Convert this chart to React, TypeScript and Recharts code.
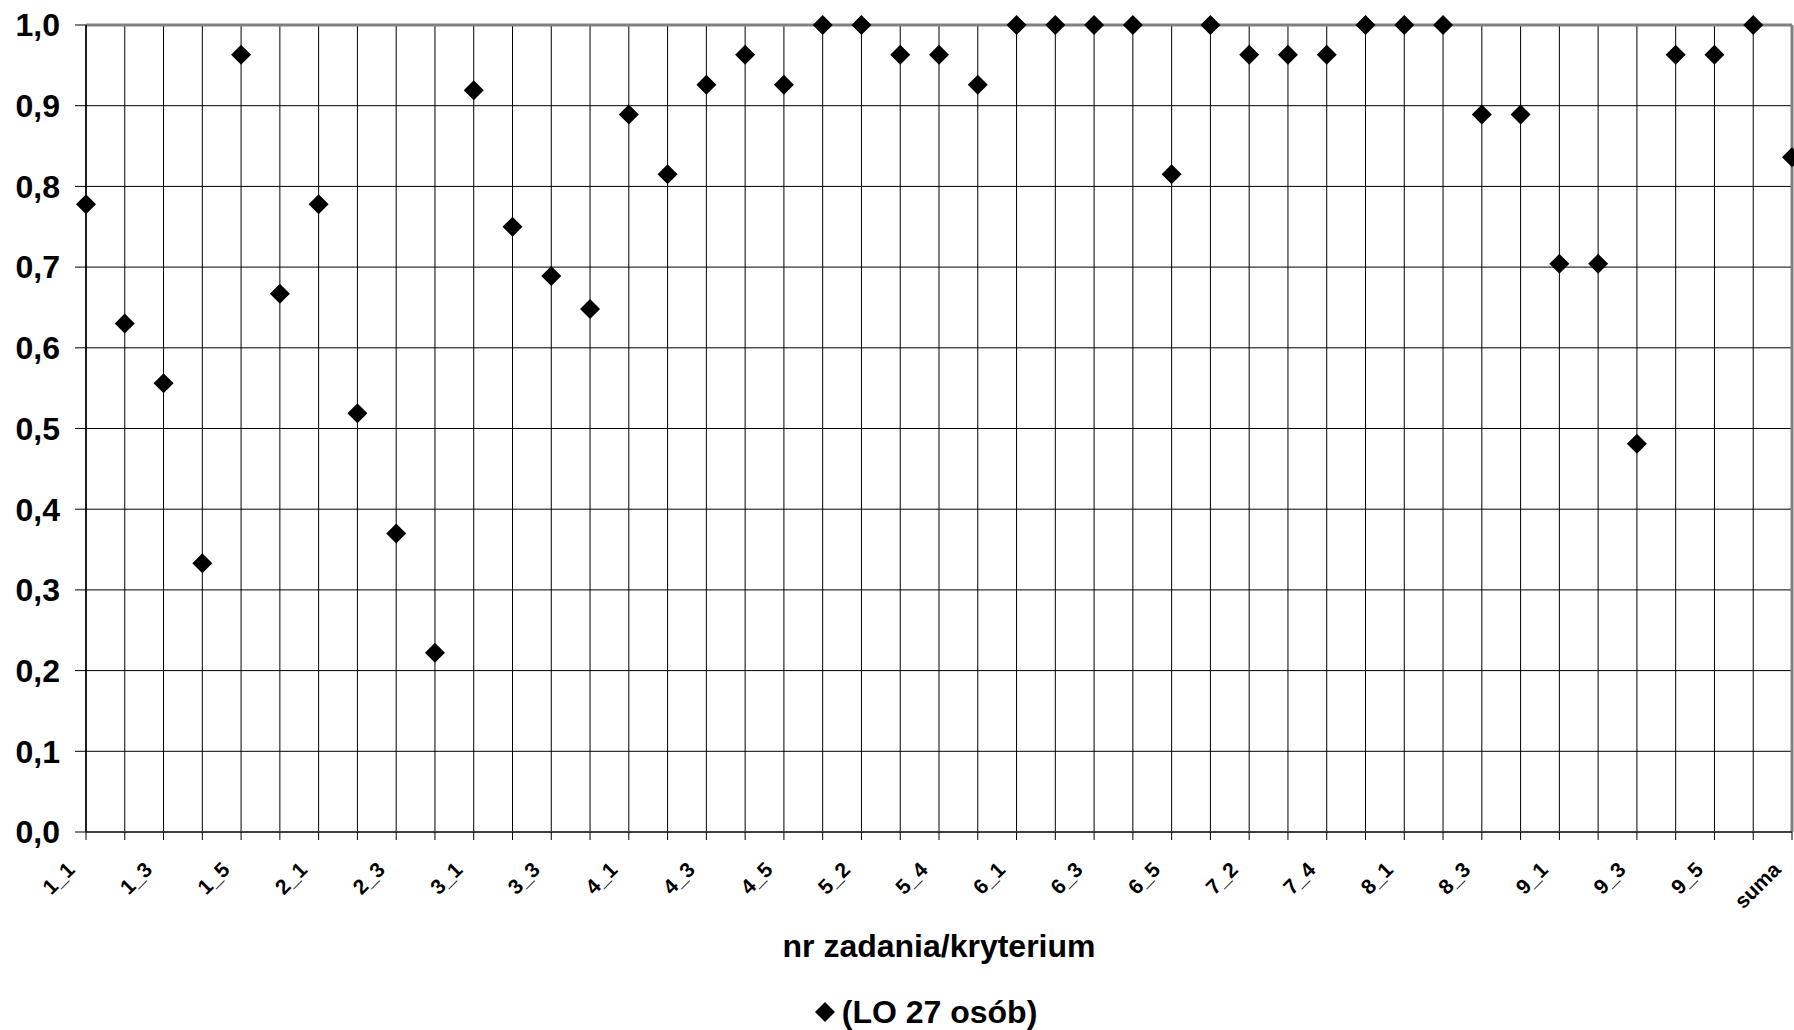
import React from 'react';
import { ScatterChart, Scatter, XAxis, YAxis, CartesianGrid, ReferenceLine, Legend, Label } from 'recharts';

const categories = [
  '1_1', '1_2', '1_3', '1_4', '1_5', '1_6',
  '2_1', '2_2', '2_3', '2_4',
  '3_1', '3_2', '3_3', '3_4',
  '4_1', '4_2', '4_3', '4_4', '4_5',
  '5_1', '5_2', '5_3', '5_4', '5_5',
  '6_1', '6_2', '6_3', '6_4', '6_5',
  '7_1', '7_2', '7_3', '7_4', '7_5',
  '8_1', '8_2', '8_3', '8_4',
  '9_1', '9_2', '9_3', '9_4', '9_5', '9_6',
  'suma',
];

const values = [
  0.778, 0.630, 0.556, 0.333, 0.963, 0.667,
  0.778, 0.519, 0.370, 0.222,
  0.919, 0.750, 0.689, 0.648,
  0.889, 0.815, 0.926, 0.963, 0.926,
  1.0, 1.0, 0.963, 0.963, 0.926,
  1.0, 1.0, 1.0, 1.0, 0.815,
  1.0, 0.963, 0.963, 0.963, 1.0,
  1.0, 1.0, 0.889, 0.889,
  0.704, 0.704, 0.481, 0.963, 0.963, 1.0,
  0.836,
];

const yTicks = [0, 0.1, 0.2, 0.3, 0.4, 0.5, 0.6, 0.7, 0.8, 0.9, 1.0];
const seriesName = '(LO 27 osób)';
const xAxisTitle = 'nr zadania/kryterium';

const FONT = "'Liberation Sans', Arial, Helvetica, sans-serif";

const data = categories.map((name, i) => ({ x: i, y: values[i], name }));
const xTicks = categories.map((_, i) => i);
const lastIndex = categories.length - 1;

const XTick = (props: any) => {
  const { x, y, payload } = props;
  const i = payload.value as number;
  if (i % 2 !== 0) return <g />;
  const ax = x - 10;
  const ay = y + 31;
  return (
    <text
      x={ax}
      y={ay}
      transform={`rotate(-45 ${ax} ${ay})`}
      textAnchor="end"
      fontSize={21}
      fontWeight="bold"
      fill="#000"
      fontFamily={FONT}
    >
      {categories[i]}
    </text>
  );
};

const Diamond = (props: any) => {
  const { cx, cy } = props;
  const r = 10;
  return (
    <polygon
      points={`${cx},${cy - r} ${cx + r},${cy} ${cx},${cy + r} ${cx - r},${cy}`}
      fill="#000"
    />
  );
};

const LegendContent = () => (
  <div
    style={{
      display: 'flex',
      justifyContent: 'center',
      alignItems: 'center',
      paddingLeft: 60,
      paddingTop: 14,
      height: 36,
      fontFamily: FONT,
      fontWeight: 'bold',
      fontSize: 32,
      color: '#000',
    }}
  >
    <svg width={20} height={20} style={{ display: 'block' }}>
      <polygon points="10,0 20,10 10,20 0,10" fill="#000" />
    </svg>
    <span style={{ marginLeft: 7, lineHeight: 1 }}>{seriesName}</span>
  </div>
);

export default function App() {
  return (
    <div style={{ position: 'absolute', left: 0, top: 0, fontFamily: FONT }}>
      <ScatterChart
        width={1794}
        height={1030}
        margin={{ top: 25, right: 2, left: 0, bottom: 0 }}
      >
        <CartesianGrid stroke="#000" strokeWidth={1} />
        <XAxis
          type="number"
          dataKey="x"
          domain={[0, lastIndex]}
          ticks={xTicks}
          interval={0}
          tick={<XTick />}
          tickSize={8}
          tickMargin={0}
          height={148}
          axisLine={{ stroke: '#404040', strokeWidth: 2 }}
          tickLine={{ stroke: '#000', strokeWidth: 1 }}
        >
          <Label
            value={xAxisTitle}
            position="insideTop"
            offset={102}
            fontSize={32}
            fontWeight="bold"
            fill="#000"
            fontFamily={FONT}
          />
        </XAxis>
        <YAxis
          type="number"
          dataKey="y"
          domain={[0, 1]}
          ticks={yTicks}
          interval={0}
          width={86}
          tickSize={11}
          tickMargin={15}
          tickFormatter={(v: number) => v.toFixed(1).replace('.', ',')}
          tick={{ fontSize: 32, fontWeight: 'bold', fill: '#000', fontFamily: FONT }}
          axisLine={{ stroke: '#000', strokeWidth: 1.5 }}
          tickLine={{ stroke: '#000', strokeWidth: 1 }}
        />
        <ReferenceLine y={1} stroke="#808080" strokeWidth={3} />
        <ReferenceLine x={lastIndex} stroke="#808080" strokeWidth={3} />
        <Legend verticalAlign="bottom" height={50} content={<LegendContent />} />
        <Scatter
          name={seriesName}
          data={data}
          fill="#000"
          shape={<Diamond />}
          isAnimationActive={false}
        />
      </ScatterChart>
    </div>
  );
}
